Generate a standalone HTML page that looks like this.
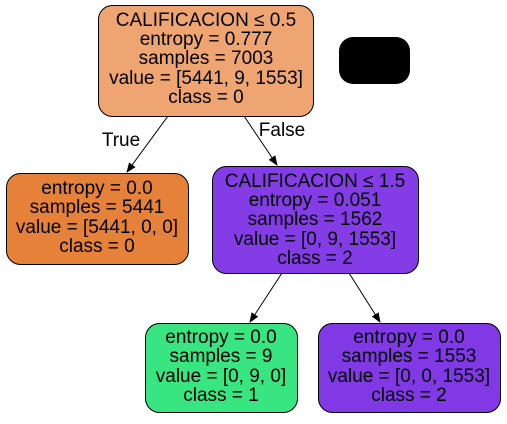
<!DOCTYPE html>
<html><head><meta charset="utf-8"><style>
html,body{margin:0;padding:0;background:#fff;}
svg text{font-family:"Liberation Sans",Arial,sans-serif;font-size:19px;text-anchor:middle;fill:#000;}
</style></head><body>
<svg width="507" height="419" viewBox="0 0 507 419">
<defs><marker id="ah" markerWidth="10" markerHeight="10" refX="9" refY="5" orient="auto" markerUnits="userSpaceOnUse"><path d="M0,1 L10,5 L0,9 Z" fill="#000"/></marker></defs>
<g><line x1="168" y1="116" x2="127" y2="172" stroke="#000" stroke-width="1" marker-end="url(#ah)"/></g>
<g><line x1="244" y1="116" x2="277" y2="165" stroke="#000" stroke-width="1" marker-end="url(#ah)"/></g>
<g><line x1="282" y1="273" x2="250" y2="322" stroke="#000" stroke-width="1" marker-end="url(#ah)"/></g>
<g><line x1="349" y1="273" x2="380" y2="322" stroke="#000" stroke-width="1" marker-end="url(#ah)"/></g>
<text x="121" y="146">True</text>
<text x="282" y="136">False</text>
<rect x="339" y="37" width="71" height="47" rx="14" fill="#000"/>
<g>
<rect x="98.5" y="5.5" width="215" height="111" rx="14" fill="#eea572" stroke="#000"/>
<text x="206" y="26">CALIFICACION ≤ 0.5</text><text x="206" y="45">entropy = 0.777</text><text x="206" y="64">samples = 7003</text><text x="206" y="84">value = [5441, 9, 1553]</text><text x="206" y="103">class = 0</text>
</g>
<g>
<rect x="6.5" y="173.5" width="182" height="91" rx="14" fill="#e58139" stroke="#000"/>
<text x="97" y="194">entropy = 0.0</text><text x="97" y="213">samples = 5441</text><text x="97" y="233">value = [5441, 0, 0]</text><text x="97" y="252">class = 0</text>
</g>
<g>
<rect x="212.5" y="166.5" width="206" height="107" rx="14" fill="#843de6" stroke="#000"/>
<text x="315" y="187">CALIFICACION ≤ 1.5</text><text x="315" y="206">entropy = 0.051</text><text x="315" y="225">samples = 1562</text><text x="315" y="245">value = [0, 9, 1553]</text><text x="315" y="264">class = 2</text>
</g>
<g>
<rect x="145.5" y="323.5" width="152" height="89" rx="14" fill="#39e581" stroke="#000"/>
<text x="221" y="343">entropy = 0.0</text><text x="221" y="362">samples = 9</text><text x="221" y="382">value = [0, 9, 0]</text><text x="221" y="401">class = 1</text>
</g>
<g>
<rect x="318.5" y="323.5" width="182" height="89" rx="14" fill="#8139e5" stroke="#000"/>
<text x="409" y="343">entropy = 0.0</text><text x="409" y="362">samples = 1553</text><text x="409" y="382">value = [0, 0, 1553]</text><text x="409" y="401">class = 2</text>
</g>
</svg>
</body></html>
